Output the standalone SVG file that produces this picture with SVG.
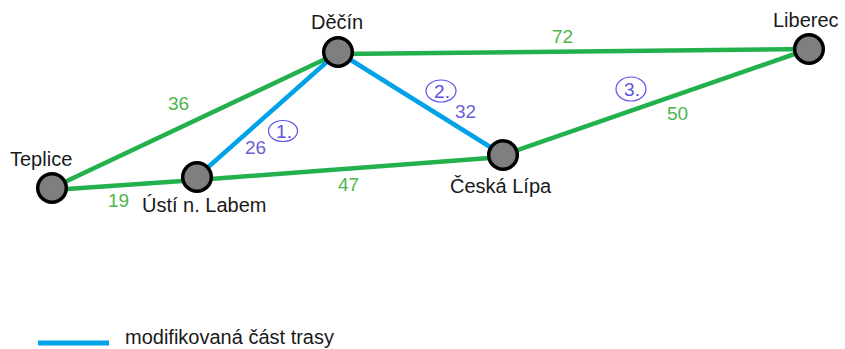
<svg xmlns="http://www.w3.org/2000/svg" width="845" height="349" viewBox="0 0 845 349">
  <style>
    .road { stroke: #22b14c; stroke-width: 4.5; fill: none; stroke-linecap: round; }
    .mod { stroke: #00a2e8; stroke-width: 4.5; fill: none; stroke-linecap: round; }
    .city { fill: #7f7f7f; stroke: #000; stroke-width: 3.5; }
    .name { font-family: "Liberation Sans", Arial, sans-serif; font-size: 20px; fill: #1a1a1a; }
    .km { font-family: "Liberation Sans", Arial, sans-serif; font-size: 19px; fill: #4cb64a; }
    .kmmod { font-family: "Liberation Sans", Arial, sans-serif; font-size: 19px; fill: #6a5fd8; }
    .step ellipse { fill: none; stroke: #5a50e6; stroke-width: 1.2; }
    .step text { font-family: "Liberation Sans", Arial, sans-serif; font-size: 19px; fill: #5a50e6; text-anchor: middle; }
  </style>

  <!-- connectors -->
  <g id="connectors">
    <line class="road" x1="52" y1="190" x2="197" y2="180"/>
    <line class="road" x1="52" y1="188" x2="338" y2="53"/>
    <line class="road" x1="197" y1="180" x2="503" y2="157"/>
    <line class="road" x1="338" y1="54" x2="809" y2="49"/>
    <line class="road" x1="503" y1="155" x2="809" y2="49"/>
    <line class="mod" x1="197" y1="177" x2="338" y2="52"/>
    <line class="mod" x1="338" y1="52" x2="503" y2="155"/>
  </g>

  <!-- distances -->
  <g id="edge-labels">
    <text class="km" x="168" y="110">36</text>
    <text class="km" x="108" y="207">19</text>
    <text class="km" x="552" y="43">72</text>
    <text class="km" x="338" y="191">47</text>
    <text class="km" x="667" y="120">50</text>
    <text class="kmmod" x="245" y="154">26</text>
    <text class="kmmod" x="455" y="118">32</text>
  </g>

  <!-- order of modified sections -->
  <g id="step-1" class="step">
    <ellipse cx="283" cy="131" rx="14.5" ry="10.5"/>
    <text x="284" y="138">1.</text>
  </g>
  <g id="step-2" class="step">
    <ellipse cx="441" cy="91" rx="15" ry="11"/>
    <text x="442" y="98">2.</text>
  </g>
  <g id="step-3" class="step">
    <ellipse cx="631" cy="89" rx="15" ry="12"/>
    <text x="632" y="96">3.</text>
  </g>

  <!-- cities -->
  <g id="teplice">
    <circle class="city" cx="52" cy="188" r="14.3"/>
    <text class="name" x="10" y="166">Teplice</text>
  </g>
  <g id="usti">
    <circle class="city" cx="197" cy="177" r="14.3"/>
    <text class="name" x="142" y="212">Ústí n. Labem</text>
  </g>
  <g id="decin">
    <circle class="city" cx="338" cy="52" r="14.3"/>
    <text class="name" x="311" y="29">Děčín</text>
  </g>
  <g id="ceska-lipa">
    <circle class="city" cx="503" cy="155" r="14.3"/>
    <text class="name" x="450" y="193">Česká Lípa</text>
  </g>
  <g id="liberec">
    <circle class="city" cx="809" cy="49" r="14.3"/>
    <text class="name" x="773" y="27">Liberec</text>
  </g>

  <!-- legend -->
  <g id="legend">
    <line x1="38" y1="343" x2="109" y2="343" stroke="#00a2e8" stroke-width="5"/>
    <text class="name" x="125" y="344" font-size="20.5">modifikovaná část trasy</text>
  </g>
</svg>
